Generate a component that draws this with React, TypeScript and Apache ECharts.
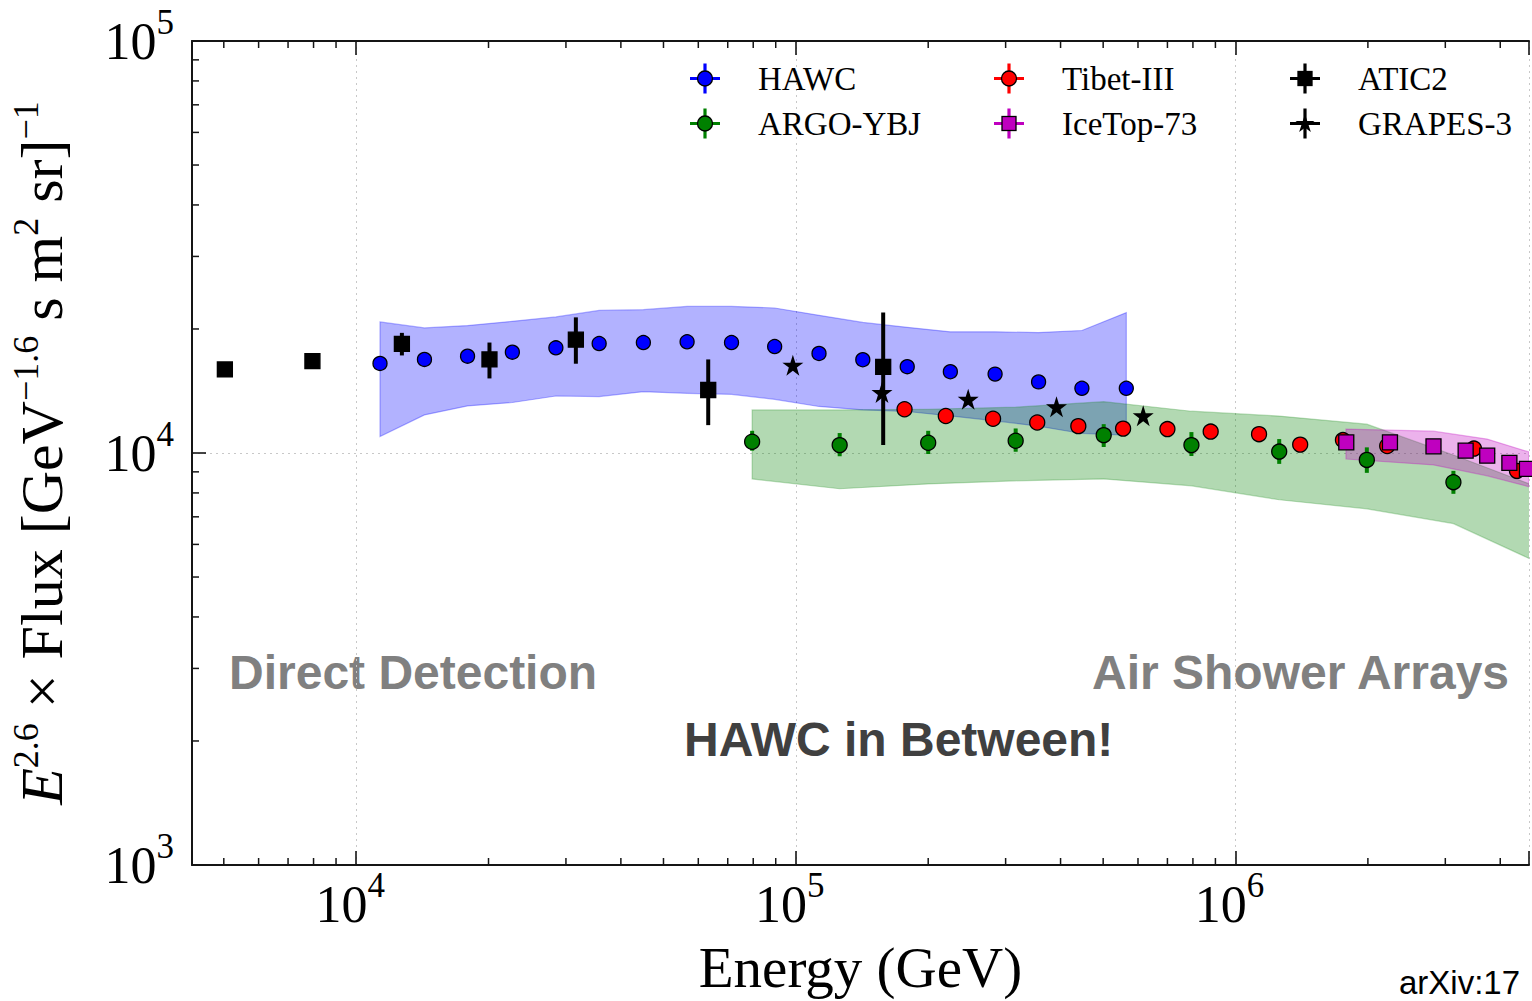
import React, { useEffect, useRef } from 'react';
import * as echarts from 'echarts';

// Axis ranges (GeV on x, E^2.6 x flux on y)
const X_MIN = 4233;
const X_MAX = 4.65e6;
const Y_MIN = 1e3;
const Y_MAX = 1e5;

const xMinorTicks = [5e3, 6e3, 7e3, 8e3, 9e3, 2e4, 3e4, 4e4, 5e4, 6e4, 7e4, 8e4, 9e4, 2e5, 3e5, 4e5, 5e5, 6e5, 7e5, 8e5, 9e5, 2e6, 3e6, 4e6];
const yMinorTicks = [2e3, 3e3, 4e3, 5e3, 6e3, 7e3, 8e3, 9e3, 2e4, 3e4, 4e4, 5e4, 6e4, 7e4, 8e4, 9e4];

// HAWC
const hawcE = [11330, 14300, 17920, 22660, 28460, 35700, 45000, 56580, 71400, 89500, 112900, 142000, 179200, 224600, 283900, 356500, 447300, 564400];
const hawcF = [16500, 16870, 17180, 17570, 18000, 18440, 18540, 18620, 18540, 18130, 17440, 16840, 16200, 15750, 15540, 14880, 14360, 14360];
const hawcBandLo = [10970, 12370, 13010, 13260, 13750, 13710, 14090, 13960, 13880, 13500, 12970, 12720, 12610, 12300, 11970, 11620, 11150, 11050];
const hawcBandHi = [20800, 20120, 20380, 20870, 21390, 22190, 22280, 22690, 22690, 22490, 21590, 20750, 20190, 19680, 19680, 19600, 19830, 21920];

// ARGO-YBJ
const argoE = [79540, 125800, 200000, 316200, 501400, 793800, 1257000, 1989000, 3130000];
const argoF = [10650, 10450, 10590, 10710, 11050, 10450, 10080, 9620, 8495];
const argoLo = [10130, 9820, 9945, 10070, 10340, 9835, 9410, 8950, 7960];
const argoHi = [11320, 11180, 11320, 11470, 11750, 11240, 10810, 10320, 9050];
const argoBandE = [79540, 125800, 200000, 316200, 501400, 793800, 1257000, 1989000, 3130000, 4980000];
const argoBandLo = [8650, 8190, 8415, 8560, 8650, 8325, 7700, 7320, 6740, 5365];
const argoBandHi = [12720, 12720, 12770, 12920, 13320, 12630, 12290, 11750, 9890, 8190];

// Tibet-III
const tibetE = [176700, 219300, 280900, 354000, 439000, 555000, 700000, 878000, 1131000, 1403000, 1755000, 2213000, 3485000, 4366000];
const tibetF = [12770, 12300, 12110, 11860, 11620, 11460, 11430, 11270, 11110, 10480, 10750, 10400, 10250, 9050];

// IceTop-73
const icetopE = [1786000, 2245000, 2820000, 3337000, 3736000, 4196000, 4600000];
const icetopF = [10610, 10610, 10380, 10130, 9850, 9460, 9150];
const icetopBandE = [1783000, 2820000, 3736000, 4650000];
const icetopBandLo = [9670, 9355, 8800, 8280];
const icetopBandHi = [11430, 11300, 10810, 10060];

// ATIC2
const aticE = [5028, 7953, 12706, 20100, 31600, 63200, 158000];
const aticF = [15950, 16710, 18410, 16870, 18840, 14220, 16190];
const aticLo = [15500, 16000, 17250, 15170, 16470, 11685, 10450];
const aticHi = [16400, 17400, 19570, 18540, 21340, 16870, 21940];

// GRAPES-3
const grapesE = [98450, 157000, 246600, 391600, 616600];
const grapesF = [16340, 14020, 13500, 12950, 12320];

const SERIF = '"Liberation Serif", "Times New Roman", serif';
const SANS = '"Liberation Sans", Arial, sans-serif';

function starPoints(cx: number, cy: number, R: number): number[][] {
  const pts: number[][] = [];
  for (let k = 0; k < 10; k++) {
    const r = k % 2 === 0 ? R : R * 0.382;
    const a = -Math.PI / 2 + (k * Math.PI) / 5;
    pts.push([cx + r * Math.cos(a), cy + r * Math.sin(a)]);
  }
  return pts;
}

const STAR_SYMBOL =
  'path://M' + starPoints(0, 0, 1).map((p) => p[0].toFixed(4) + ',' + p[1].toFixed(4)).join('L') + 'Z';

function legendIcon(kind: string, color: string): string {
  let marker = '';
  if (kind === 'circle') marker = `<circle cx='16' cy='16' r='7.5' fill='${color}' stroke='#000' stroke-width='1.3'/>`;
  if (kind === 'square') marker = `<rect x='9' y='9' width='14' height='14' fill='${color}' stroke='#000' stroke-width='1.3'/>`;
  if (kind === 'star')
    marker = `<polygon points='${starPoints(16, 16.5, 10).map((p) => p[0].toFixed(2) + ',' + p[1].toFixed(2)).join(' ')}' fill='${color}'/>`;
  const svg =
    `<svg xmlns='http://www.w3.org/2000/svg' width='64' height='32' viewBox='0 0 64 32'>` +
    `<line x1='1' y1='16' x2='31' y2='16' stroke='${color}' stroke-width='3.2'/>` +
    `<line x1='16' y1='1' x2='16' y2='31' stroke='${color}' stroke-width='3.2'/>` +
    marker +
    `</svg>`;
  return 'image://data:image/svg+xml;charset=utf-8,' + encodeURIComponent(svg);
}

function powLabel(v: number): string {
  const e = Math.log10(v);
  const r = Math.round(e);
  if (Math.abs(e - r) > 1e-6) return '';
  return `{b|10}{s|${r}}`;
}

const labelRich = {
  b: { fontFamily: SERIF, fontSize: 52, lineHeight: 72, color: '#000' },
  s: { fontFamily: SERIF, fontSize: 35, lineHeight: 32, verticalAlign: 'top', color: '#000' },
};

function bandSeries(name: string, E: number[], lo: number[], hi: number[], fill: string, stroke: string, z: number) {
  return {
    type: 'custom',
    name,
    z,
    clip: true,
    silent: true,
    data: E.map((e, i) => [e, lo[i], hi[i]]),
    encode: { x: 0, y: [1, 2] },
    renderItem: (params: any, api: any) => {
      if (params.dataIndex !== 0) return { type: 'group', children: [] };
      const top = E.map((e, i) => api.coord([e, hi[i]]));
      const bottom = E.map((e, i) => api.coord([e, lo[i]])).reverse();
      return {
        type: 'polygon',
        shape: { points: top.concat(bottom) },
        style: { fill, stroke, lineWidth: 1.2 },
      };
    },
  };
}

function errorBarSeries(name: string, E: number[], lo: number[], hi: number[], color: string, width: number) {
  return {
    type: 'custom',
    name,
    z: 4,
    silent: true,
    data: E.map((e, i) => [e, lo[i], hi[i]]),
    encode: { x: 0, y: [1, 2] },
    renderItem: (params: any, api: any) => {
      const a = api.coord([api.value(0), api.value(1)]);
      const b = api.coord([api.value(0), api.value(2)]);
      return {
        type: 'line',
        shape: { x1: a[0], y1: a[1], x2: b[0], y2: b[1] },
        style: { stroke: color, lineWidth: width },
      };
    },
  };
}

function scatterSeries(name: string, E: number[], F: number[], symbol: string, size: number, color: string, border: boolean, z: number) {
  return {
    type: 'scatter',
    name,
    z,
    symbol,
    symbolSize: size,
    data: E.map((e, i) => [e, F[i]]),
    itemStyle: { color, opacity: 1, borderColor: '#000', borderWidth: border ? 1.3 : 0 },
    emphasis: { disabled: true },
  };
}

const AXIS_COLOR = '#151515';

export default function App() {
  const ref = useRef<HTMLDivElement>(null);

  useEffect(() => {
    if (!ref.current) return;
    const chart = echarts.init(ref.current, undefined, { renderer: 'svg' });

    const xAxisBase = {
      type: 'log',
      min: X_MIN,
      max: X_MAX,
      axisLine: { show: true, lineStyle: { color: AXIS_COLOR, width: 2 } },
      axisTick: { show: true, inside: true, length: 14, lineStyle: { color: AXIS_COLOR, width: 1.6 } },
    };

    const legendText = { fontFamily: SERIF, fontSize: 33, color: '#000' };

    const option: any = {
      animation: false,
      backgroundColor: '#fff',
      grid: { left: 188, top: 41, right: 0, bottom: 133 },
      xAxis: [
        {
          ...xAxisBase,
          position: 'bottom',
          name: 'Energy (GeV)',
          nameLocation: 'middle',
          nameGap: 74,
          nameTextStyle: { fontFamily: SERIF, fontSize: 57, color: '#000' },
          axisLabel: { show: true, margin: 3, padding: [0, 12, 0, 0], formatter: powLabel, rich: labelRich },
          splitLine: { show: true, lineStyle: { color: '#c8c8c8', width: 1, type: [2, 4] } },
        },
        {
          ...xAxisBase,
          position: 'top',
          axisLabel: { show: false },
          splitLine: { show: false },
        },
      ],
      yAxis: {
        type: 'log',
        min: Y_MIN,
        max: Y_MAX,
        axisLine: { show: true, lineStyle: { color: AXIS_COLOR, width: 2 } },
        axisTick: { show: true, inside: true, length: 14, lineStyle: { color: AXIS_COLOR, width: 1.6 } },
        axisLabel: { show: true, margin: 18, formatter: powLabel, rich: labelRich },
        splitLine: { show: true, lineStyle: { color: '#c8c8c8', width: 1, type: [2, 4] } },
        name: '{it|E}{sp|2.6}{n| × Flux [GeV}{sp|−1.6}{n| s m}{sp|2}{n| sr]}{sp|−1}',
        nameLocation: 'middle',
        nameRotate: 90,
        nameGap: 116,
        nameTextStyle: {
          fontFamily: SERIF,
          fontSize: 60,
          color: '#000',
          rich: {
            it: { fontFamily: SERIF, fontStyle: 'italic', fontSize: 60, lineHeight: 68, color: '#000' },
            n: { fontFamily: SERIF, fontSize: 60, lineHeight: 68, color: '#000' },
            sp: { fontFamily: SERIF, fontSize: 36, lineHeight: 34, verticalAlign: 'top', color: '#000' },
          },
        },
      },
      legend: [
        {
          left: 689, top: 62, orient: 'vertical', itemWidth: 64, itemHeight: 32, itemGap: 12, padding: 0,
          selectedMode: false,
          textStyle: legendText,
          data: [
            { name: 'HAWC', icon: legendIcon('circle', '#0000ff') },
            { name: 'ARGO-YBJ', icon: legendIcon('circle', '#008000') },
          ],
        },
        {
          left: 993, top: 62, orient: 'vertical', itemWidth: 64, itemHeight: 32, itemGap: 12, padding: 0,
          selectedMode: false,
          textStyle: legendText,
          data: [
            { name: 'Tibet-III', icon: legendIcon('circle', '#ff0000') },
            { name: 'IceTop-73', icon: legendIcon('square', '#bf00bf') },
          ],
        },
        {
          left: 1289, top: 62, orient: 'vertical', itemWidth: 64, itemHeight: 32, itemGap: 12, padding: 0,
          selectedMode: false,
          textStyle: legendText,
          data: [
            { name: 'ATIC2', icon: legendIcon('square', '#000000') },
            { name: 'GRAPES-3', icon: legendIcon('star', '#000000') },
          ],
        },
      ],
      graphic: [
        { type: 'text', x: 229, y: 672, style: { text: 'Direct Detection', font: `bold 48px ${SANS}`, fill: '#808080', align: 'left', verticalAlign: 'middle' } },
        { type: 'text', x: 1092, y: 672, style: { text: 'Air Shower Arrays', font: `bold 48px ${SANS}`, fill: '#808080', align: 'left', verticalAlign: 'middle' } },
        { type: 'text', x: 684, y: 739, style: { text: 'HAWC in Between!', font: `bold 48px ${SANS}`, fill: '#404040', align: 'left', verticalAlign: 'middle' } },
        { type: 'text', x: 1399, y: 982, style: { text: 'arXiv:17', font: `33px ${SANS}`, lineHeight: 34, fill: '#000', align: 'left', verticalAlign: 'middle' } },
      ],
      series: [
        // minor ticks on the bottom and top axes
        {
          type: 'custom',
          name: 'xMinor',
          silent: true,
          z: 6,
          data: xMinorTicks.map((v) => [v, Y_MIN]),
          encode: { x: 0, y: 1 },
          renderItem: (params: any, api: any) => {
            const v = api.value(0);
            const b = api.coord([v, Y_MIN]);
            const t = api.coord([v, Y_MAX]);
            const st = { stroke: AXIS_COLOR, lineWidth: 1.5 };
            return {
              type: 'group',
              children: [
                { type: 'line', shape: { x1: b[0], y1: b[1], x2: b[0], y2: b[1] - 7 }, style: st },
                { type: 'line', shape: { x1: t[0], y1: t[1], x2: t[0], y2: t[1] + 7 }, style: st },
              ],
            };
          },
        },
        // minor ticks on the left axis
        {
          type: 'custom',
          name: 'yMinor',
          silent: true,
          z: 6,
          data: yMinorTicks.map((v) => [X_MIN, v]),
          encode: { x: 0, y: 1 },
          renderItem: (params: any, api: any) => {
            const p = api.coord([X_MIN, api.value(1)]);
            return {
              type: 'line',
              shape: { x1: p[0], y1: p[1], x2: p[0] + 7, y2: p[1] },
              style: { stroke: AXIS_COLOR, lineWidth: 1.5 },
            };
          },
        },
        bandSeries('HAWC band', hawcE, hawcBandLo, hawcBandHi, 'rgba(0,0,255,0.3)', 'rgba(0,0,255,0.3)', 1),
        bandSeries('ARGO-YBJ band', argoBandE, argoBandLo, argoBandHi, 'rgba(0,128,0,0.3)', 'rgba(0,128,0,0.25)', 2),
        bandSeries('IceTop-73 band', icetopBandE, icetopBandLo, icetopBandHi, 'rgba(191,0,191,0.3)', 'rgba(191,0,191,0.3)', 3),
        errorBarSeries('ARGO-YBJ err', argoE, argoLo, argoHi, '#008000', 4),
        errorBarSeries('ATIC2 err', aticE, aticLo, aticHi, '#000000', 4),
        scatterSeries('HAWC', hawcE, hawcF, 'circle', 14, '#0000ff', true, 5),
        scatterSeries('ARGO-YBJ', argoE, argoF, 'circle', 15, '#008000', true, 5),
        scatterSeries('Tibet-III', tibetE, tibetF, 'circle', 15, '#ff0000', true, 5),
        scatterSeries('IceTop-73', icetopE, icetopF, 'rect', 15, '#bf00bf', true, 5),
        scatterSeries('ATIC2', aticE, aticF, 'rect', 15, '#000000', true, 5),
        scatterSeries('GRAPES-3', grapesE, grapesF, STAR_SYMBOL, 21, '#000000', false, 5),
      ],
    };

    chart.setOption(option);
    return () => chart.dispose();
  }, []);

  return (
    <div
      ref={ref}
      style={{ position: 'fixed', left: 0, top: 0, width: 1532, height: 1001, background: '#fff' }}
    />
  );
}
